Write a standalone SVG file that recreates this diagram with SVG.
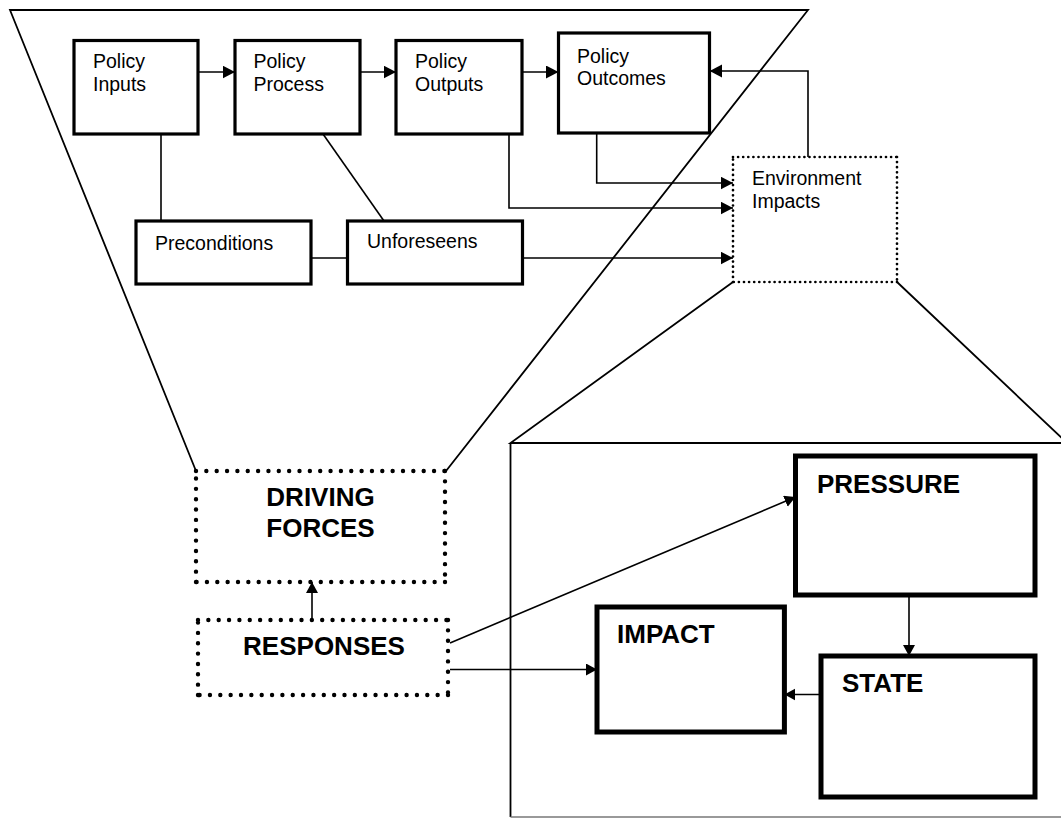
<svg xmlns="http://www.w3.org/2000/svg" width="1061" height="818" viewBox="0 0 1061 818">
  <defs>
    <marker id="headTop" markerUnits="userSpaceOnUse" markerWidth="13" markerHeight="14" refX="12.5" refY="6.5" orient="auto">
      <path d="M0,0 L12.5,6.5 L0,13 z" fill="#000"/>
    </marker>
    <marker id="headLow" markerUnits="userSpaceOnUse" markerWidth="12" markerHeight="13" refX="11" refY="6" orient="auto">
      <path d="M0,0 L11,6 L0,12 z" fill="#000"/>
    </marker>
  </defs>
  <style>
    .frame { fill: none; stroke: #000; stroke-width: 1.8; }
    .box { fill: #fff; stroke: #000; stroke-width: 3.2; }
    .bigbox { fill: #fff; stroke: #000; stroke-width: 5; }
    .dots { fill: none; stroke: #000; stroke-width: 2.7; stroke-linecap: round; stroke-dasharray: 0 5.1; }
    .bigdots { fill: none; stroke: #000; stroke-width: 4.4; stroke-linecap: round; stroke-dasharray: 0 10.35; }
    .link { fill: none; stroke: #000; stroke-width: 1.6; }
    .arrowTop { marker-end: url(#headTop); }
    .arrowLow { marker-end: url(#headLow); }
    .lbl { font-family: "Liberation Sans", Arial, Helvetica, sans-serif; font-size: 19.5px; fill: #000; }
    .big { font-family: "Liberation Sans", Arial, Helvetica, sans-serif; font-size: 26px; font-weight: bold; fill: #000; }
  </style>
  <rect width="1061" height="818" fill="#fff"/>

  <!-- zoom outlines: policy funnel above, DPSIR frame below -->
  <g id="outlines">
    <path class="frame" d="M196,471 L10,10 L808,10 L446,471"/>
    <path class="frame" d="M733,282 L510.5,443 L1061,443 M897,282 L1067,443"/>
    <path class="frame" d="M510.5,443 V817"/>
    <path d="M510.5,817 H1061" fill="none" stroke="#777" stroke-width="1.6"/>
  </g>

  <!-- connectors -->
  <g id="connectors">
    <path class="link arrowTop" d="M198,72 H235"/>
    <path class="link arrowTop" d="M360,72 H396"/>
    <path class="link arrowTop" d="M522,72 H558.5"/>
    <path class="link arrowTop" d="M808,157 V71 H709.7"/>
    <path class="link" d="M161,134 V221"/>
    <path class="link" d="M323,134 L384,221"/>
    <path class="link" d="M311,258 H347.5"/>
    <path class="link arrowTop" d="M596.7,133 V183 H733"/>
    <path class="link arrowTop" d="M509,134 V208 H733"/>
    <path class="link arrowTop" d="M522.5,258 H733"/>
    <path class="link arrowLow" d="M312,620 V582"/>
    <path class="link arrowLow" d="M450,643 L795.5,497"/>
    <path class="link arrowLow" d="M450,669.5 H597"/>
    <path class="link arrowLow" d="M909,595 V656"/>
    <path class="link arrowLow" d="M821,694.5 H784.4"/>
  </g>

  <g id="policy-inputs">
    <rect class="box" x="74" y="40.5" width="124" height="93.5"/>
    <text class="lbl" x="93" y="68">Policy</text>
    <text class="lbl" x="93" y="91">Inputs</text>
  </g>
  <g id="policy-process">
    <rect class="box" x="235" y="40.5" width="125" height="93.5"/>
    <text class="lbl" x="253.5" y="68">Policy</text>
    <text class="lbl" x="253.5" y="91">Process</text>
  </g>
  <g id="policy-outputs">
    <rect class="box" x="396" y="40.5" width="126" height="93.5"/>
    <text class="lbl" x="415" y="68">Policy</text>
    <text class="lbl" x="415" y="91">Outputs</text>
  </g>
  <g id="policy-outcomes">
    <rect class="box" x="558.5" y="33" width="151" height="100"/>
    <text class="lbl" x="577" y="63">Policy</text>
    <text class="lbl" x="577" y="85">Outcomes</text>
  </g>
  <g id="preconditions">
    <rect class="box" x="136" y="221" width="175" height="63"/>
    <text class="lbl" x="155" y="250">Preconditions</text>
  </g>
  <g id="unforeseens">
    <rect class="box" x="347.5" y="221" width="175" height="63"/>
    <text class="lbl" x="367" y="248">Unforeseens</text>
  </g>
  <g id="environment-impacts">
    <rect x="733" y="157" width="164" height="125" fill="#fff"/>
    <path class="dots" d="M733,157 H897 M897,157 V282 M897,282 H733 M733,282 V157"/>
    <text class="lbl" x="752" y="185">Environment</text>
    <text class="lbl" x="752" y="208">Impacts</text>
  </g>

  <g id="driving-forces">
    <rect x="196" y="471" width="249" height="111" fill="#fff"/>
    <path class="bigdots" d="M196,471 H445 M445,471 V582 M445,582 H196 M196,582 V471"/>
    <text class="big" x="320.5" y="506" text-anchor="middle">DRIVING</text>
    <text class="big" x="320.5" y="537" text-anchor="middle">FORCES</text>
  </g>
  <g id="responses">
    <rect x="198" y="620" width="250" height="75" fill="#fff"/>
    <path class="bigdots" d="M198,620 H448 M448,620 V695 M448,695 H198 M198,695 V620"/>
    <text class="big" x="324" y="655" text-anchor="middle">RESPONSES</text>
  </g>
  <g id="pressure">
    <rect class="bigbox" x="795.5" y="456" width="239.5" height="139"/>
    <text class="big" x="817" y="493">PRESSURE</text>
  </g>
  <g id="impact">
    <rect class="bigbox" x="597" y="607" width="187.4" height="125"/>
    <text class="big" x="617" y="643">IMPACT</text>
  </g>
  <g id="state">
    <rect class="bigbox" x="821" y="656" width="214" height="141"/>
    <text class="big" x="842" y="692">STATE</text>
  </g>
</svg>
